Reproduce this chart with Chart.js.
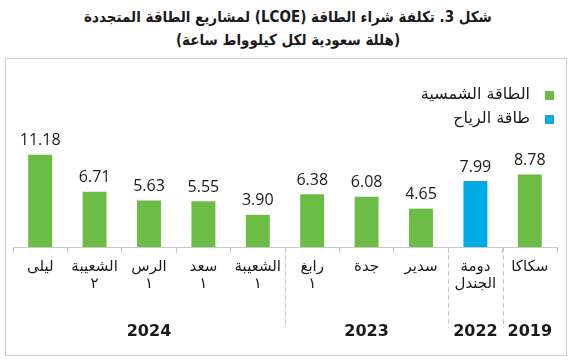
<!DOCTYPE html>
<html lang="ar">
<head>
<meta charset="utf-8">
<script src="https://cdn.jsdelivr.net/npm/chart.js@4"></script>
<style>
  body { margin: 0; background: #fff; width: 576px; height: 361px; overflow: hidden; font-family: "DejaVu Sans", sans-serif; }
  #titre { position: absolute; left: 0; top: 6px; width: 576px; text-align: center; direction: rtl;
           font-family: "DejaVu Sans Condensed", "DejaVu Sans", sans-serif;
           font-weight: bold; font-size: 15px; line-height: 23px; color: #1a1a1a; }
  #cadre { position: absolute; left: 5px; top: 58px; width: 560px; height: 296px; border: 1px solid #cfcfcf; }
</style>
</head>
<body>
<div id="titre">شكل 3. تكلفة شراء الطاقة (LCOE) لمشاريع الطاقة المتجددة<br>(هللة سعودية لكل كيلوواط ساعة)</div>
<div id="cadre"><canvas id="graphique" width="560" height="296"></canvas></div>
<script>
// donnees du graphique (de droite a gauche)
var categories = [["سكاكا"], ["دومة", "الجندل"], ["سدير"], ["جدة"], ["رابغ", "١"], ["الشعيبة", "١"], ["سعد", "١"], ["الرس", "١"], ["الشعيبة", "٢"], ["ليلى"]];
var solaire = [8.78, null, 4.65, 6.08, 6.38, 3.90, 5.55, 5.63, 6.71, 11.18];
var eolien = [null, 7.99, null, null, null, null, null, null, null, null];
var annees = ["2019", "2022", "2023", "2024"];
var tailleGroupes = [1, 1, 3, 5];

var vert = "#6cbd45";
var bleu = "#00abe6";

// ******************** etiquettes de valeurs, legende, annees ********************
var pluginExtras = {
    id: "extras",
    afterDatasetsDraw: function (chart) {
        var ctx = chart.ctx;
        var x = chart.scales.x;
        ctx.save();

        // valeurs au dessus des barres
        ctx.font = "16px 'Open Sans'";
        ctx.fillStyle = "#1a1a1a";
        ctx.textAlign = "center";
        ctx.textBaseline = "bottom";
        chart.data.datasets.forEach(function (ds, i) {
            chart.getDatasetMeta(i).data.forEach(function (bar, j) {
                if (ds.data[j] == null) return;
                ctx.fillText(ds.data[j].toFixed(2), bar.x, bar.y - 6);
            });
        });

        // separateurs pointilles et annees
        var bas = chart.chartArea.bottom;
        var pas = Math.abs(x.getPixelForValue(1) - x.getPixelForValue(0));
        var debut = 0;
        ctx.strokeStyle = "#c8c8c8";
        ctx.lineWidth = 1;
        ctx.setLineDash([5, 3]);
        ctx.font = "bold 16px 'DejaVu Sans'";
        ctx.textBaseline = "middle";
        tailleGroupes.forEach(function (n, g) {
            var fin = debut + n - 1;
            var bordGauche = x.getPixelForValue(fin) - pas / 2;
            var bordDroit = x.getPixelForValue(debut) + pas / 2;
            if (g < tailleGroupes.length - 1) {
                ctx.beginPath();
                ctx.moveTo(Math.round(bordGauche) + 0.5, bas);
                ctx.lineTo(Math.round(bordGauche) + 0.5, bas + 81);
                ctx.stroke();
            }
            ctx.fillText(annees[g], (bordGauche + bordDroit) / 2, bas + 85);
            debut += n;
        });
        ctx.setLineDash([]);

        // legende
        var items = [["الطاقة الشمسية", vert], ["طاقة الرياح", bleu]];
        ctx.font = "16px 'DejaVu Sans'";
        ctx.textAlign = "right";
        items.forEach(function (it, k) {
            var y = 36 + k * 24;
            ctx.fillStyle = it[1];
            ctx.fillRect(539, y - 4, 9, 9);
            ctx.fillStyle = "#1a1a1a";
            ctx.fillText(it[0], 524, y);
        });
        ctx.restore();
    }
};

var ctx1 = document.getElementById("graphique").getContext("2d");
var graphique = new Chart(ctx1, {
    type: "bar",
    data: {
        labels: categories,
        datasets: [
            { label: "الطاقة الشمسية", data: solaire, backgroundColor: vert },
            { label: "طاقة الرياح", data: eolien, backgroundColor: bleu }
        ]
    },
    options: {
        responsive: false,
        animation: false,
        layout: { padding: { left: 7, right: 9, top: 23, bottom: 57 } },
        datasets: { bar: { barPercentage: 0.44, categoryPercentage: 1 } },
        plugins: { legend: { display: false }, tooltip: { enabled: false } },
        scales: {
            x: {
                stacked: true,
                reverse: true,
                grid: { offset: true, drawOnChartArea: false, drawTicks: true, tickLength: 6, color: "#c8c8c8" },
                border: { color: "#c8c8c8" },
                ticks: { color: "#1a1a1a", padding: 6, maxRotation: 0, font: { family: "DejaVu Sans", size: 15, lineHeight: 1.1 } }
            },
            y: { stacked: true, display: false, min: 0, max: 20 }
        }
    },
    plugins: [pluginExtras]
});
</script>
</body>
</html>
